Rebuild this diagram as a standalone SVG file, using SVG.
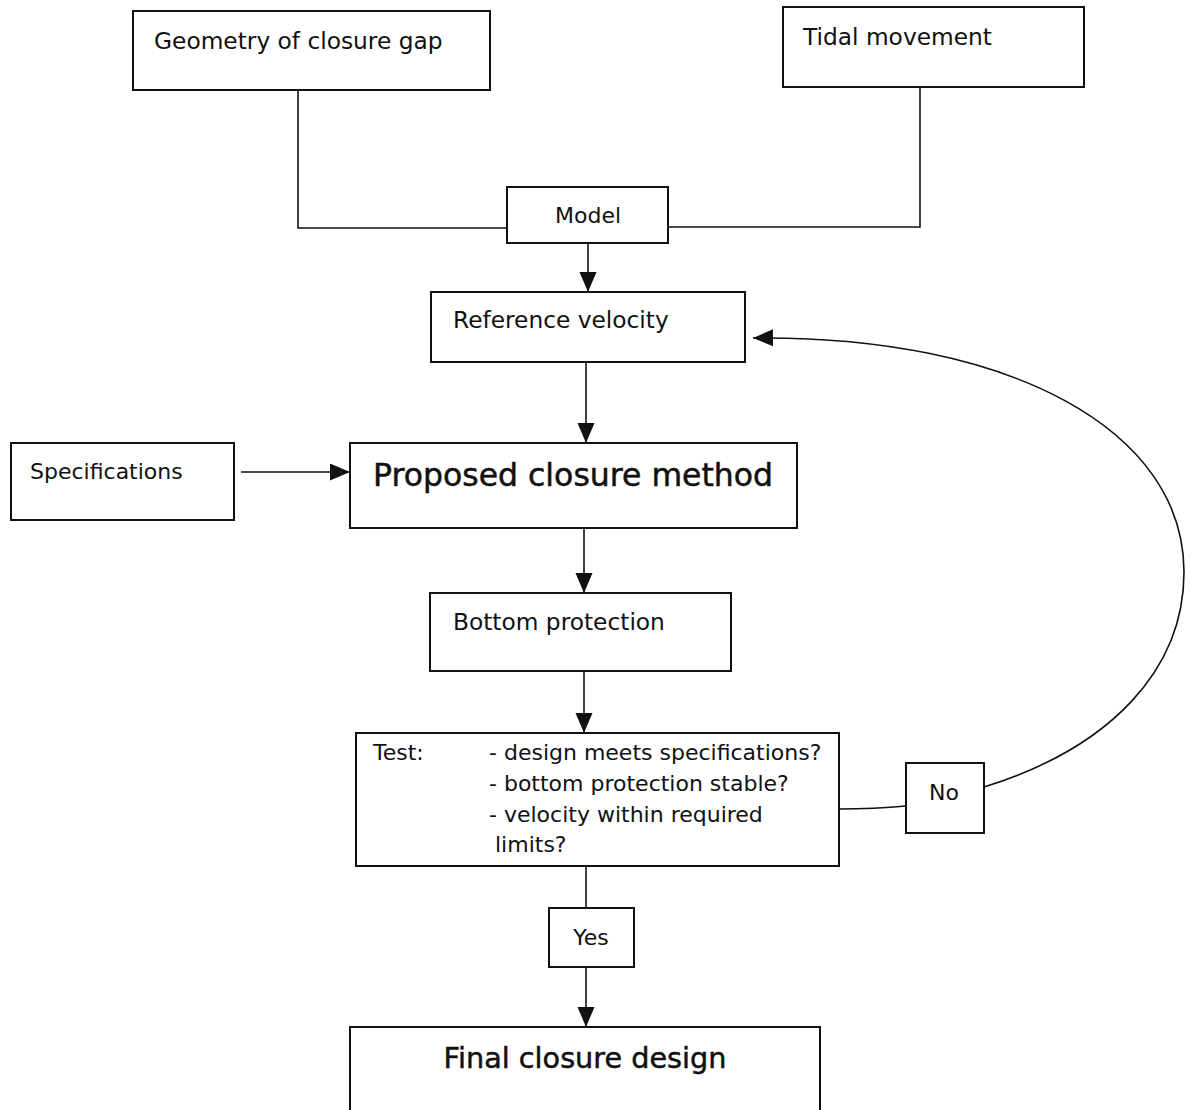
<svg xmlns="http://www.w3.org/2000/svg" width="1190" height="1110" viewBox="0 0 1190 1110">
<style>
.box{fill:#fff;stroke:#111;stroke-width:2}
.t{font-family:"DejaVu Sans","Liberation Sans",sans-serif;font-size:23.3px;fill:#111}
.s{font-family:"DejaVu Sans","Liberation Sans",sans-serif;font-size:22px;fill:#111}
.big{font-family:"DejaVu Sans","Liberation Sans",sans-serif;fill:#111;stroke:#111;stroke-width:0.5}
.ln{fill:none;stroke:#111;stroke-width:1.6}
</style>
<defs>
<marker id="ah" markerUnits="userSpaceOnUse" markerWidth="22" markerHeight="18" refX="20" refY="8.5" orient="auto">
<path d="M0,0 L20,8.5 L0,17 Z" fill="#111"/>
</marker>
</defs>
<rect width="1190" height="1110" fill="#fff"/>
<g id="connectors">
<polyline class="ln" points="298,90 298,228 507,228"/>
<polyline class="ln" points="920,87 920,227 668,227"/>
<line class="ln" x1="588" y1="243" x2="588" y2="292" marker-end="url(#ah)"/>
<line class="ln" x1="586" y1="362" x2="586" y2="443" marker-end="url(#ah)"/>
<line class="ln" x1="241" y1="472" x2="350" y2="472" marker-end="url(#ah)"/>
<line class="ln" x1="584" y1="528" x2="584" y2="593" marker-end="url(#ah)"/>
<line class="ln" x1="584" y1="671" x2="584" y2="733" marker-end="url(#ah)"/>
<path class="ln" d="M839,809 Q875,809 906,806"/>
<path class="ln" d="M984,787 C1110,748 1184,670 1184,572 C1184,430 1010,335 753,338" marker-end="url(#ah)"/>
<line class="ln" x1="586" y1="866" x2="586" y2="908"/>
<line class="ln" x1="586" y1="967" x2="586" y2="1027" marker-end="url(#ah)"/>
</g>
<g id="geometry"><rect class="box" x="133" y="11" width="357" height="79"/><text class="t" x="154" y="49">Geometry of closure gap</text></g>
<g id="tidal"><rect class="box" x="783" y="7" width="301" height="80"/><text class="t" x="803" y="45">Tidal movement</text></g>
<g id="model"><rect class="box" x="507" y="187" width="161" height="56"/><text class="s" x="588" y="223" text-anchor="middle">Model</text></g>
<g id="refvel"><rect class="box" x="431" y="292" width="314" height="70"/><text class="t" x="453" y="328">Reference velocity</text></g>
<g id="specs"><rect class="box" x="11" y="443" width="223" height="77"/><text class="s" x="30" y="479">Specifications</text></g>
<g id="proposed"><rect class="box" x="350" y="443" width="447" height="85"/><text class="big" x="373" y="486" font-size="31.5">Proposed closure method</text></g>
<g id="bottom"><rect class="box" x="430" y="593" width="301" height="78"/><text class="t" x="453" y="630">Bottom protection</text></g>
<g id="test"><rect class="box" x="356" y="733" width="483" height="133"/>
<text class="s" x="373" y="760">Test:</text>
<text class="s" x="489" y="760">- design meets specifications?</text>
<text class="s" x="489" y="791">- bottom protection stable?</text>
<text class="s" x="489" y="822">- velocity within required</text>
<text class="s" x="495" y="852">limits?</text></g>
<g id="no"><rect class="box" x="906" y="763" width="78" height="70"/><text class="s" x="944" y="800" text-anchor="middle">No</text></g>
<g id="yes"><rect class="box" x="549" y="908" width="85" height="59"/><text class="s" x="591" y="945" text-anchor="middle">Yes</text></g>
<g id="final"><rect class="box" x="350" y="1027" width="470" height="100"/><text class="big" x="585" y="1068" font-size="28.7" text-anchor="middle">Final closure design</text></g>
</svg>
